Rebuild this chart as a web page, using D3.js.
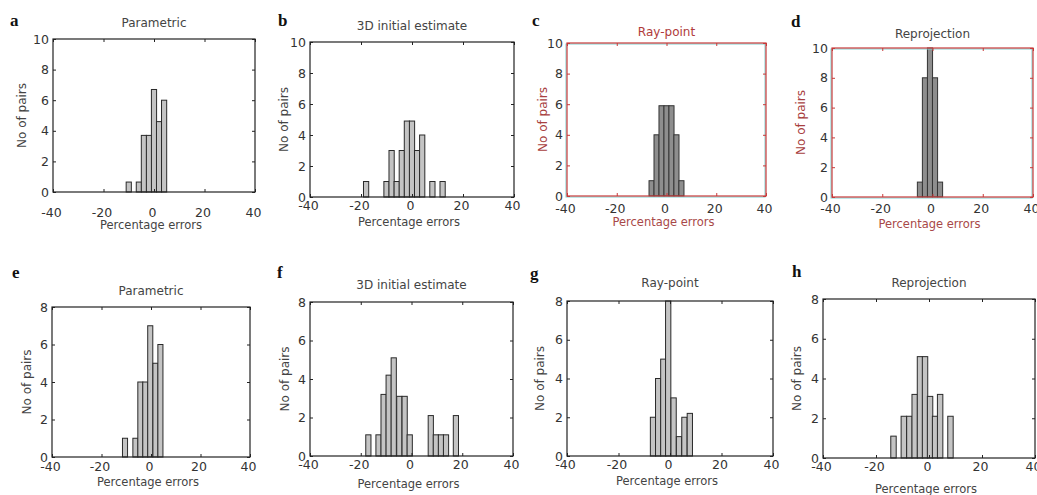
<!DOCTYPE html>
<html>
<head>
<meta charset="utf-8">
<script src="https://cdn.jsdelivr.net/npm/d3@7"></script>
<style>
  body { margin: 0; background: #fff; }
  svg text { font-family: "DejaVu Sans", sans-serif; fill: #333; }
</style>
</head>
<body>
<svg id="fig" width="1037" height="495"></svg>
<script>
// ---- data ----
var letters = ["a", "b", "c", "d", "e", "f", "g", "h"];
var titles = ["Parametric", "3D initial estimate", "Ray-point", "Reprojection",
              "Parametric", "3D initial estimate", "Ray-point", "Reprojection"];
var xTicks = [-40, -20, 0, 20, 40];
var yTicksTop = [0, 2, 4, 6, 8, 10];
var yTicksBottom = [0, 2, 4, 6, 8];
var binWidth = 2.05;

var centersA = [-10, -6, -4, -2, 0, 2, 4];
var countsA  = [0.65, 0.65, 3.7, 3.7, 6.7, 4.6, 6];
var centersB = [-18, -10, -8, -6, -4, -2, 0, 2, 4, 8, 12];
var countsB  = [1, 1, 3, 1, 3, 4.9, 4.9, 3, 4, 1, 1];
var centersC = [-6, -4, -2, 0, 2, 4, 6];
var countsC  = [1, 4, 5.9, 5.9, 5.9, 4, 1];
var centersD = [-5, -3, -1, 1, 3];
var countsD  = [1, 8, 10, 8, 1];
var centersE = [-10.5, -6.3, -4.3, -2.3, -0.3, 1.8, 3.8];
var countsE  = [1, 1, 4, 4, 7, 5, 6];
var centersF = [-17, -13, -11, -9, -7, -4.8, -2.7, -0.7, 7.6, 9.6, 11.6, 13.6, 17.5];
var countsF  = [1.1, 1.1, 3.2, 4.2, 5.1, 3.1, 3.1, 1.1, 2.1, 1.1, 1.1, 1.1, 2.1];
var centersG = [-6.6, -4.6, -2.6, -0.7, 1.4, 3.5, 5.6, 7.7];
var countsG  = [2, 4, 5, 8, 3, 1, 2, 2.2];
var centersH = [-13.4, -9.5, -7.4, -5.4, -3.4, -1.5, 0.4, 2.3, 4.2, 8.1];
var countsH  = [1.1, 2.1, 2.1, 3.2, 5.1, 5.1, 3.1, 2.1, 3.2, 2.1];

var centers = [centersA, centersB, centersC, centersD, centersE, centersF, centersG, centersH];
var counts = [countsA, countsB, countsC, countsD, countsE, countsF, countsG, countsH];

// ---- layout of each panel (pixels) ----
var layout = [
  {L: 53,  R: 255,  T: 39,  B: 192, let: [10, 26],  ty: 27,  yl: 22,  xt: 217, xl: 229, red: false},
  {L: 310, R: 514,  T: 42,  B: 197, let: [278, 26], ty: 30,  yl: 284, xt: 210, xl: 226, red: false},
  {L: 567, R: 766,  T: 43,  B: 196, let: [532, 26], ty: 36,  yl: 543, xt: 213, xl: 226, red: true},
  {L: 832, R: 1033, T: 48,  B: 197, let: [791, 27], ty: 38,  yl: 801, xt: 213, xl: 228, red: true},
  {L: 52,  R: 250,  T: 307, B: 457, let: [12, 278], ty: 295, yl: 27,  xt: 471, xl: 486, red: false},
  {L: 310, R: 513,  T: 302, B: 456, let: [277, 278], ty: 289, yl: 285, xt: 469, xl: 488, red: false},
  {L: 567, R: 773,  T: 301, B: 456, let: [530, 279], ty: 287, yl: 540, xt: 469, xl: 485, red: false},
  {L: 823, R: 1035, T: 299, B: 458, let: [792, 277], ty: 287, yl: 797, xt: 471, xl: 493, red: false}
];

var svg = d3.select("#fig");

function drawPanel(i) {
  var p = layout[i];
  var top = i < 4;
  var yTicks = top ? yTicksTop : yTicksBottom;
  var x = d3.scaleLinear().domain([-40, 40]).range([p.L, p.R]);
  var y = d3.scaleLinear().domain([0, top ? 10 : 8]).range([p.B, p.T]);
  var boxCol = p.red ? "#c83a3a" : "#222";
  var g = svg.append("g");

  var bins = centers[i].map(function(c, k) { return {c: c, n: counts[i][k]}; });

  // bars
  g.selectAll("rect.bar").data(bins).enter().append("rect")
    .attr("class", "bar")
    .attr("x", function(d) { return x(d.c - binWidth / 2); })
    .attr("width", function(d) { return x(d.c + binWidth / 2) - x(d.c - binWidth / 2); })
    .attr("y", function(d) { return y(d.n); })
    .attr("height", function(d) { return y(0) - y(d.n); })
    .attr("fill", p.red ? "#8e8e8e" : "#c4c4c4")
    .attr("stroke", p.red ? "#333" : "#2a2a2a")
    .attr("stroke-width", 1);

  // box (scan fringe on the red ones)
  if (p.red) {
    g.append("rect").attr("x", p.L - 1).attr("y", p.T + 1)
      .attr("width", p.R - p.L).attr("height", p.B - p.T)
      .attr("fill", "none").attr("stroke", "#7fd0d0").attr("stroke-width", 1);
  }
  g.append("rect").attr("x", p.L).attr("y", p.T)
    .attr("width", p.R - p.L).attr("height", p.B - p.T)
    .attr("fill", "none").attr("stroke", boxCol).attr("stroke-width", 1.2);

  // inward ticks on all four sides
  function ticksOnly(sel) {
    sel.select(".domain").remove();
    sel.selectAll(".tick line").attr("stroke", boxCol);
  }
  g.append("g").attr("transform", "translate(0," + p.T + ")")
    .call(d3.axisTop(x).tickValues(xTicks).tickSize(-3).tickFormat(""))
    .call(ticksOnly);
  g.append("g").attr("transform", "translate(" + p.R + ",0)")
    .call(d3.axisRight(y).tickValues(yTicks).tickSize(-3).tickFormat(""))
    .call(ticksOnly);

  var xa = g.append("g").attr("transform", "translate(0," + p.B + ")")
    .call(d3.axisBottom(x).tickValues(xTicks).tickSize(-3).tickPadding(0).tickFormat(String))
    .call(ticksOnly);
  xa.selectAll(".tick text")
    .attr("y", p.xt - p.B).attr("dy", 0).attr("dx", -2)
    .style("font-size", "12.5px").attr("font-family", null).style("fill", "#333");

  var ya = g.append("g").attr("transform", "translate(" + p.L + ",0)")
    .call(d3.axisLeft(y).tickValues(yTicks).tickSize(-3).tickPadding(4).tickFormat(String))
    .call(ticksOnly);
  ya.selectAll(".tick text")
    .style("font-size", "12.5px").attr("font-family", null).style("fill", "#333");

  // title, letter, axis labels
  svg.append("text").attr("x", (p.L + p.R) / 2).attr("y", p.ty)
    .attr("text-anchor", "middle").style("font-size", "12px")
    .style("fill", i === 2 ? "#b03a3a" : "#444").text(titles[i]);
  svg.append("text").attr("x", p.let[0]).attr("y", p.let[1])
    .style("font-family", "'Liberation Serif', serif").style("font-weight", "bold")
    .style("font-size", "17px").style("fill", "#111").text(letters[i]);
  svg.append("text")
    .attr("transform", "translate(" + p.yl + "," + (p.T + p.B) / 2 + ") rotate(-90)")
    .attr("text-anchor", "middle").attr("dy", "0.35em").style("font-size", "12px")
    .style("fill", p.red ? "#a84040" : "#444").text("No of pairs");
  svg.append("text").attr("x", (p.L + p.R) / 2 - 3).attr("y", p.xl)
    .attr("text-anchor", "middle").style("font-size", "11.5px")
    .style("fill", p.red ? "#a84848" : "#444").text("Percentage errors");
}

for (var i = 0; i < 8; i++) drawPanel(i);
</script>
</body>
</html>
